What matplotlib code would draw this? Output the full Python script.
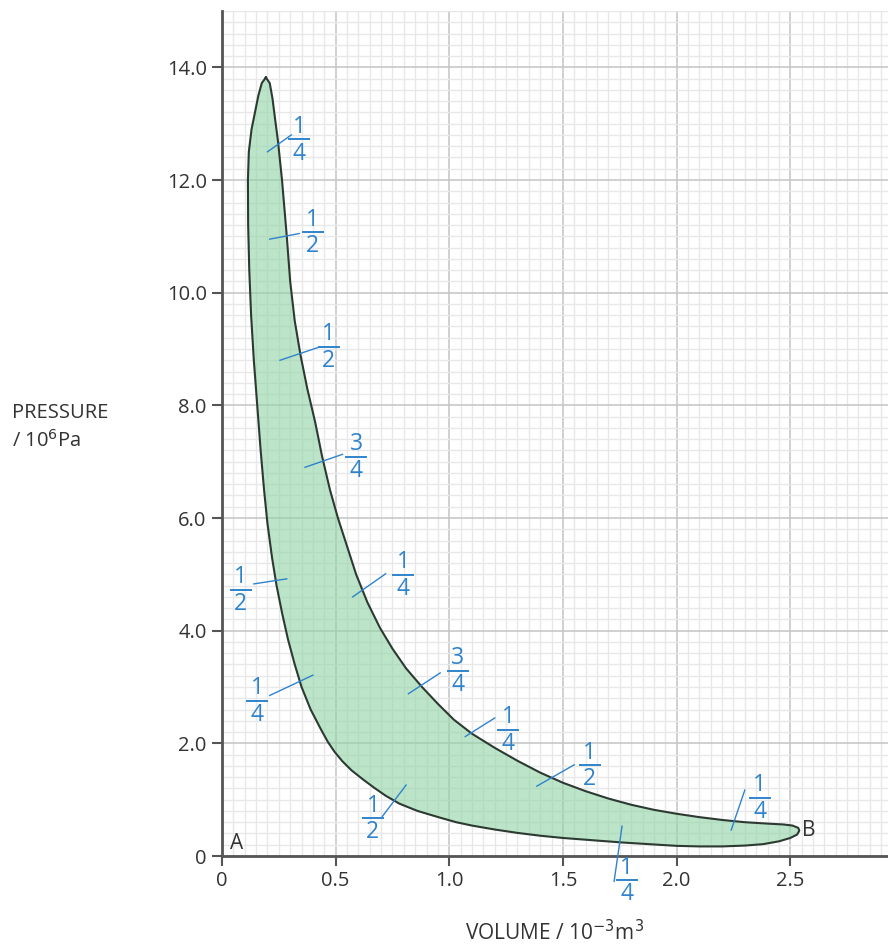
import matplotlib
matplotlib.use("Agg")
import matplotlib.pyplot as plt
from matplotlib.ticker import MultipleLocator

# ---- data: loop boundary (volume 1e-3 m^3, pressure 1e6 Pa) ----
upper_v = [0.193, 0.21, 0.222, 0.233, 0.246, 0.264, 0.285, 0.30, 0.32, 0.345, 0.375, 0.41,
           0.44, 0.475, 0.51, 0.55, 0.59, 0.64, 0.695, 0.75, 0.81, 0.88, 0.95, 1.02, 1.10,
           1.20, 1.30, 1.40, 1.50, 1.60, 1.70, 1.80, 1.90, 2.00, 2.10, 2.20, 2.30, 2.40,
           2.47, 2.51, 2.535]
upper_p = [13.82, 13.72, 13.45, 13.1, 12.7, 12.0, 11.0, 10.2, 9.5, 8.9, 8.3, 7.7,
           7.1, 6.5, 6.0, 5.5, 5.0, 4.5, 4.05, 3.68, 3.33, 3.0, 2.70, 2.42, 2.17,
           1.92, 1.69, 1.48, 1.30, 1.15, 1.02, 0.91, 0.82, 0.75, 0.69, 0.64, 0.60, 0.575,
           0.56, 0.54, 0.50]
lower_v = [2.54, 2.53, 2.50, 2.45, 2.38, 2.30, 2.20, 2.10, 2.00, 1.88, 1.76, 1.63, 1.50,
           1.40, 1.30, 1.20, 1.10, 1.03, 0.96, 0.86, 0.78, 0.72, 0.67, 0.62, 0.57, 0.53,
           0.495, 0.465, 0.435, 0.39, 0.35, 0.32, 0.29, 0.265, 0.24, 0.22, 0.20, 0.185, 0.17,
           0.155, 0.14, 0.128, 0.12, 0.115, 0.114, 0.118, 0.13, 0.145, 0.16, 0.175]
lower_p = [0.45, 0.38, 0.32, 0.26, 0.21, 0.185, 0.17, 0.17, 0.18, 0.21, 0.24, 0.28, 0.32,
           0.36, 0.41, 0.47, 0.54, 0.60, 0.68, 0.80, 0.93, 1.07, 1.21, 1.36, 1.52, 1.68,
           1.85, 2.03, 2.25, 2.6, 3.0, 3.4, 3.85, 4.3, 4.8, 5.3, 5.9, 6.5, 7.2,
           8.0, 8.8, 9.6, 10.4, 11.2, 12.0, 12.5, 12.9, 13.2, 13.5, 13.72]

# ---- fraction annotations (square counting) ----
frac_num = ["1", "1", "1", "3", "1", "1", "1", "3", "1", "1", "1", "1", "1"]
frac_den = ["4", "2", "2", "4", "2", "4", "4", "4", "4", "2", "2", "4", "4"]
frac_x = [0.34, 0.40, 0.47, 0.59, 0.083, 0.797, 0.154, 1.037, 1.26, 1.618, 0.664, 1.78, 2.365]
frac_y = [12.72, 11.07, 9.04, 7.09, 4.73, 4.99, 2.75, 3.29, 2.24, 1.61, 0.67, -0.43, 1.03]
line_x0 = [0.20, 0.21, 0.255, 0.365, 0.14, 0.575, 0.21, 0.82, 1.07, 1.385, 0.705, 1.725, 2.24]
line_y0 = [12.50, 10.95, 8.80, 6.90, 4.83, 4.60, 2.85, 2.88, 2.12, 1.24, 0.70, -0.45, 0.46]
line_x1 = [0.305, 0.34, 0.425, 0.53, 0.285, 0.72, 0.40, 0.96, 1.20, 1.55, 0.81, 1.76, 2.30]
line_y1 = [12.80, 11.05, 9.03, 7.13, 4.92, 5.01, 3.21, 3.25, 2.45, 1.62, 1.26, 0.53, 1.17]

point_labels = ["A", "B"]
point_x = [0.065, 2.58]
point_y = [0.22, 0.45]

xticks = [0, 0.5, 1.0, 1.5, 2.0, 2.5]
xtick_labels = ["0", "0.5", "1.0", "1.5", "2.0", "2.5"]
yticks = [0, 2, 4, 6, 8, 10, 12, 14]
ytick_labels = ["0", "2.0", "4.0", "6.0", "8.0", "10.0", "12.0", "14.0"]

blue = "#2f83cc"
txt = "#333333"
font = "Open Sans"

fig = plt.figure(figsize=(8.88, 9.47), dpi=100)
ax = fig.add_axes([222 / 888, 91 / 947, 1 - 222 / 888, 845 / 947])
ax.set_xlim(0, 2.93)
ax.set_ylim(0, 15.0)

ax.xaxis.set_major_locator(MultipleLocator(0.5))
ax.xaxis.set_minor_locator(MultipleLocator(0.05))
ax.yaxis.set_major_locator(MultipleLocator(2.0))
ax.yaxis.set_minor_locator(MultipleLocator(0.2))
ax.grid(which="minor", color="#e8e8e8", lw=1.0, zorder=0)
ax.grid(which="major", color="#c4c4c4", lw=1.1, zorder=0)
ax.set_axisbelow(True)
ax.set_xticks(xticks, xtick_labels)
ax.set_yticks(yticks, ytick_labels)
ax.tick_params(which="minor", length=0)
ax.tick_params(which="major", length=7, width=1.5, color="#555555", labelsize=14.5,
               labelcolor=txt, pad=4)
for lab in ax.get_xticklabels() + ax.get_yticklabels():
    lab.set_fontfamily(font)
for s in ["top", "right"]:
    ax.spines[s].set_visible(False)
for s in ["left", "bottom"]:
    ax.spines[s].set_color("#555555")
    ax.spines[s].set_linewidth(2)

loop_v = upper_v + lower_v
loop_p = upper_p + lower_p
ax.fill(loop_v, loop_p, facecolor="#8fd3a6", alpha=0.6, edgecolor="none", zorder=2)
ax.plot(loop_v + [loop_v[0]], loop_p + [loop_p[0]], color="#2c3a31", lw=1.5,
        solid_joinstyle="round", zorder=3)

# fraction pointer lines and fractions
for i in range(len(frac_num)):
    ax.plot([line_x0[i], line_x1[i]], [line_y0[i], line_y1[i]], color=blue, lw=1.0,
            zorder=4, clip_on=False)
    fx, fy = frac_x[i], frac_y[i]
    ax.annotate(frac_num[i], (fx, fy), xytext=(0, 0.5), textcoords="offset points",
                ha="center", va="bottom", color=blue, fontsize=16.5, family=font,
                annotation_clip=False, zorder=5)
    ax.annotate(frac_den[i], (fx, fy), xytext=(0, -1.5), textcoords="offset points",
                ha="center", va="top", color=blue, fontsize=16.5, family=font,
                annotation_clip=False, zorder=5)
    ax.plot([fx - 0.044, fx + 0.044], [fy, fy], color=blue, lw=1.4, zorder=5,
            clip_on=False)

for lab, x, y in zip(point_labels, point_x, point_y):
    ax.text(x, y, lab, fontsize=15, color=txt, family=font, ha="center", va="center",
            zorder=5)

fig.text(12 / 888, 1 - 413 / 947, "PRESSURE", fontsize=14.5, color=txt, family=font,
         ha="left", va="center")
fig.text(12 / 888, 1 - 441 / 947, r"/ 10$^{6}$Pa", fontsize=14.5, color=txt, family=font,
         ha="left", va="center")
fig.text(555 / 888, 1 - 933 / 947, r"VOLUME / 10$^{-3}$m$^{3}$", fontsize=15, color=txt,
         family=font, ha="center", va="center")

fig.savefig("out.png", dpi=100)
